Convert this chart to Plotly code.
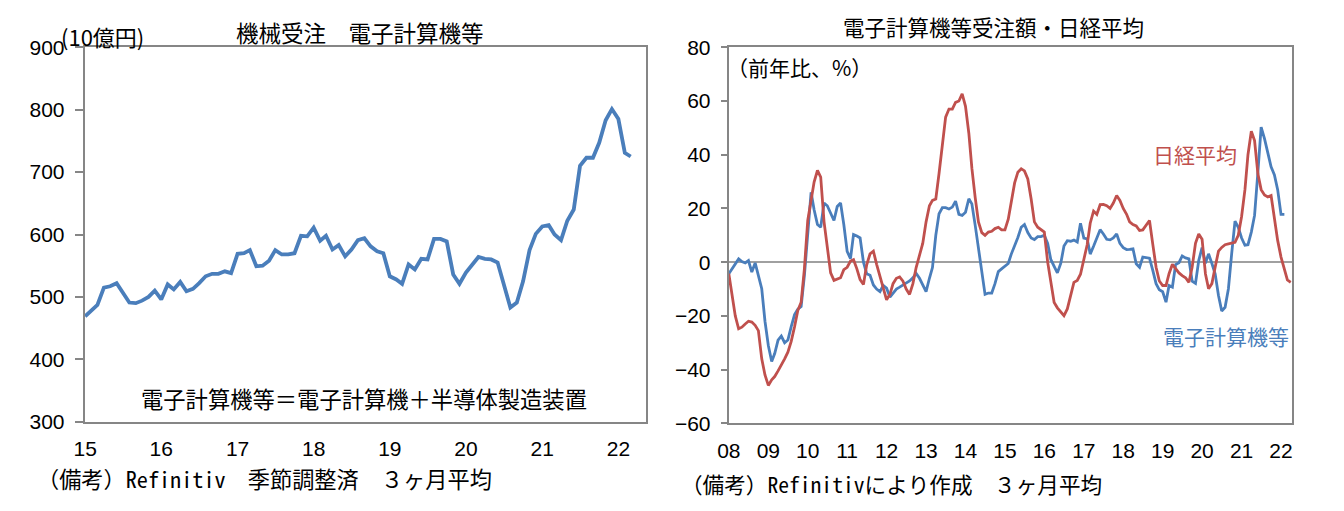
import pandas as pd
import plotly.graph_objects as go

# ---------------- data ----------------
# Left: machinery orders, electronic computers etc. (10 bn yen), 3-month avg, Jan 2015 - Mar 2022
orders_start = "2015-01-01"
orders = [469, 478, 487, 515, 517, 522, 506, 491, 490, 494, 500, 510,
          496, 520, 512, 524, 509, 513, 522, 533, 537, 537, 541, 538,
          569, 570, 575, 549, 550, 558, 575, 568, 568, 570, 598, 597,
          611, 590, 598, 576, 583, 565, 576, 591, 594, 581, 573, 570,
          533, 528, 521, 552, 544, 561, 560, 593, 593, 589, 536, 521,
          539, 551, 564, 561, 560, 555, 520, 483, 491, 525, 575, 601,
          613, 615, 600, 591, 622, 640, 710, 723, 723, 747, 783, 801,
          785, 731, 725]
left_tick_years = [2015, 2016, 2017, 2018, 2019, 2020, 2021, 2022]
left_tick_text = ["15", "16", "17", "18", "19", "20", "21", "22"]

# Right: YoY % (3-month avg), Jan 2008 onwards
yoy_start = "2008-01-01"
computers_yoy = [-4.3, -2.5, -0.5, 1.2, 0.2, -0.3, 0.6, -3.7, -0.3, -5, -9.9, -22,
                 -31, -37, -34, -29, -27.5, -30, -29, -24, -19.5, -17.5, -16.5, -5,
                 10, 26, 19.5, 14, 13, 22, 21, 18, 15.5, 20.7, 22, 14,
                 4, 1.3, 10.3, 9.7, 9, 0, -4.3, -4.9, -8.5, -10, -11, -8.7,
                 -9.7, -13, -11.5, -10, -9.3, -8.5, -8, -7, -5.8, -4.2, -6, -8.5,
                 -11, -6, -2, 10, 18, 20.3, 20.3, 19.8, 20.5, 22.7, 17.8, 17.4,
                 18.6, 23.6, 21.7, 13.7, 5.5, -4, -12, -11.5, -11.5, -8, -3.5, -2.5,
                 -1.6, -0.5, 3, 6, 9.2, 13, 14, 11, 9, 8.4, 9.5, 9.5,
                 10, 7, 1, -1.6, -4, -0.5, 6, 8, 7.8, 8.2, 7.5, 14.5,
                 9, 8.7, 3, 5.9, 9, 12.1, 10.5, 8.5, 8.3, 9, 10.5, 7,
                 5.4, 4.7, 4.8, 5, -0.6, -1.9, 1.9, 1.7, 1.5, -3, -8, -10.3,
                 -11, -14.9, -8.7, -9.3, -0.9, -0.2, 2.3, 1.6, 1.2, -7.1, -7.9, 0.6,
                 5.4, -0.4, 3.1, -0.5, -4.3, -12.4, -18.2, -16.8, -9.9, 3.1, 15.3, 13,
                 9, 6.3, 6.5, 11.2, 17.4, 33.5, 50.3, 46, 41, 35.5, 32.5, 27,
                 17.8, 17.8]
nikkei_yoy = [-4.3, -12, -20, -24.8, -24.2, -23, -22, -22.3, -23.5, -25.5, -36, -42,
              -45.9, -43.8, -42.6, -40.5, -38.5, -36, -33.5, -29.5, -24, -18, -14.9, -2.5,
              15.5, 23.5, 29.8, 34.2, 31.7, 15, 5, -4, -6.8, -6.2, -5.8, -2.8,
              -1.9, 0.4, 0.9, -2.5, -6.5, -8.3, -1, 3.1, 4.1, -0.8, -5, -9.3,
              -14, -12, -8, -6, -5.5, -7.1, -10, -12, -8, -2, 3, 7,
              15, 21, 23, 23.5, 33, 45, 54, 57, 57, 59.5, 60, 62.7,
              58, 48, 35, 24, 15, 11, 10, 11.2, 11.5, 12.5, 13, 12,
              12, 16, 23, 29.5, 33.5, 34.8, 34, 31, 23.5, 15, 13, 12,
              11.2, 0, -8, -15, -17, -18.5, -19.9, -17.4, -12.8, -7.5, -6.8, -4.5,
              1, 6.5, 14.5, 19, 17.8, 21.4, 21.5, 21, 20, 22, 24.8, 23,
              20, 17.8, 15, 14, 13.5, 11.8, 12, 14, 15.5, 6.8, -1.9, -7,
              -8.7, -8.7, -4.3, -0.8, -2.5, -4, -5, -5.8, -7.5, -1.9, 7, 10.5,
              8.5, -4.3, -9.9, -8, -1.9, 4.1, 5.5, 6.5, 6.8, 7, 7.4, 10,
              17, 27, 40, 48.8, 45.3, 32.9, 27, 25, 24.3, 24.8, 15.5, 8.1,
              1.9, -3.1, -6.6, -7.5]
right_tick_years = list(range(2008, 2023))
right_tick_text = ["08", "09", "10", "11", "12", "13", "14", "15", "16",
                   "17", "18", "19", "20", "21", "22"]

orders_dates = pd.date_range(orders_start, periods=len(orders), freq="MS")
comp_dates = pd.date_range(yoy_start, periods=len(computers_yoy), freq="MS")
nikkei_dates = pd.date_range(yoy_start, periods=len(nikkei_yoy), freq="MS")

# ---------------- style ----------------
W, H = 1344, 511
BLUE = "#4a7ebb"
RED = "#c0504d"
AXIS = "#868686"
NUM_FONT = dict(family="Liberation Sans Narrow, Liberation Sans, Arial, sans-serif", size=21, color="#000")
JP = "Noto Sans CJK JP"
MONO = "Noto Sans Mono CJK JP, Noto Sans CJK JP"

def px(x):
    return x / W

def py(y):
    return 1 - y / H

fig = go.Figure()
fig.add_trace(go.Scatter(x=orders_dates, y=orders, mode="lines",
                         line=dict(color=BLUE, width=3.8), xaxis="x", yaxis="y",
                         showlegend=False))
fig.add_trace(go.Scatter(x=comp_dates, y=computers_yoy, mode="lines",
                         line=dict(color=BLUE, width=2.8), xaxis="x2", yaxis="y2",
                         showlegend=False))
fig.add_trace(go.Scatter(x=nikkei_dates, y=nikkei_yoy, mode="lines",
                         line=dict(color=RED, width=2.8), xaxis="x2", yaxis="y2",
                         showlegend=False))

axis_common = dict(showgrid=False, showline=True, linecolor=AXIS, linewidth=2,
                   mirror=True, tickfont=NUM_FONT, automargin=False)

fig.update_layout(
    width=W, height=H,
    margin=dict(l=0, r=0, t=0, b=0),
    paper_bgcolor="white", plot_bgcolor="white",
    xaxis=dict(domain=[px(84.7), px(645.7)],
               range=["2014-12-30", "2022-05-12"],
               tickvals=[f"{y}-01-01" for y in left_tick_years],
               ticktext=left_tick_text, ticks="", zeroline=False,
               ticklabelstandoff=7, anchor="y", **axis_common),
    yaxis=dict(domain=[py(421.7), py(47.3)], range=[300, 900], dtick=100,
               ticks="outside", ticklen=8, tickwidth=2, tickcolor=AXIS,
               zeroline=False, anchor="x", ticklabelstandoff=6, **axis_common),
    xaxis2=dict(domain=[px(728.7), px(1291.7)],
                range=["2007-12-31", "2022-04-10"],
                tickvals=[f"{y}-01-01" for y in right_tick_years],
                ticktext=right_tick_text, ticks="", zeroline=False,
                ticklabelstandoff=7, anchor="y2", **axis_common),
    yaxis2=dict(domain=[py(423.3), py(47.3)], range=[-60, 80], dtick=20,
                ticks="outside", ticklen=6, tickwidth=2, tickcolor=AXIS,
                zeroline=True, zerolinecolor="#a0a0a0", zerolinewidth=2,
                anchor="x2", ticklabelstandoff=6, **axis_common),
)

def note(text, x, y, size=22, color="#000", family=JP, xanchor="left"):
    fig.add_annotation(text=text, x=px(x), y=py(y), xref="paper", yref="paper",
                       showarrow=False, xanchor=xanchor, yanchor="middle",
                       borderpad=0, font=dict(family=family, size=size, color=color))

# left chart texts
note("機械受注　電子計算機等", 359.5, 32.5, size=22.5, xanchor="center")
note("(10億円)", 60, 36, size=22)
note("電子計算機等＝電子計算機＋半導体製造装置", 140, 398, size=22.3)
note("（備考）Refinitiv　季節調整済　３ヶ月平均", 36, 478, size=22.2, family=MONO)

# right chart texts
note("電子計算機等受注額・日経平均", 993.5, 26, size=21.5, xanchor="center")
note("（前年比、%）", 726, 67, size=21)
note("日経平均", 1152, 154, size=21, color=RED)
note("電子計算機等", 1162, 336, size=21, color=BLUE)
note("（備考）Refinitivにより作成　３ヶ月平均", 680, 483, size=21.6, family=MONO)

fig.write_html("out.html")
